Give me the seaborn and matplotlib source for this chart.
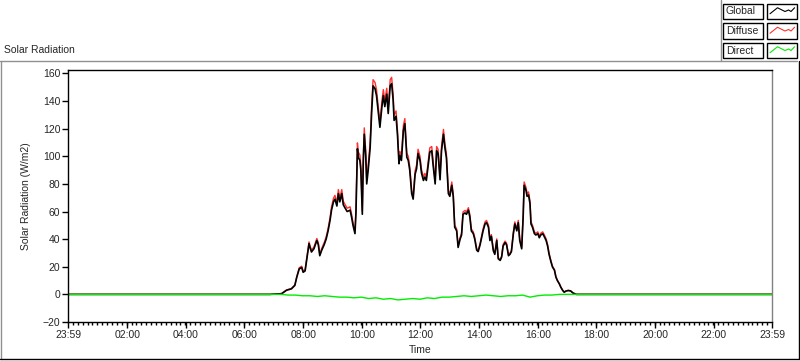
import matplotlib
matplotlib.use('Agg')
import matplotlib.pyplot as plt
import seaborn as sns
import pandas as pd
from matplotlib.lines import Line2D
from matplotlib.patches import Rectangle
from matplotlib.ticker import MultipleLocator, FixedLocator

# Data (time in minutes after the 23:59 start)
minutes = [0, 413, 437, 447, 457, 464, 468, 473, 478, 481, 485, 488, 493, 495, 498, 503, 509, 512, 515, 519,
           524, 528, 532, 536, 539, 543, 546, 550, 553, 556, 560, 563, 566, 571, 577, 580, 583, 587, 589, 592,
           594, 597, 599, 602, 604, 606, 609, 611, 614, 618, 621, 624, 628, 631, 635, 638, 642, 645, 648, 652,
           655, 659, 662, 665, 667, 671, 674, 677, 679, 682, 686, 689, 693, 696, 699, 703, 706, 710, 713, 716,
           720, 723, 727, 730, 733, 737, 740, 744, 747, 751, 754, 757, 761, 764, 768, 771, 774, 778, 781, 785,
           788, 791, 795, 798, 802, 805, 808, 812, 815, 819, 822, 825, 829, 832, 836, 839, 843, 846, 849, 853,
           856, 860, 863, 866, 870, 873, 877, 880, 884, 887, 890, 894, 897, 901, 904, 907, 911, 914, 918, 921,
           924, 928, 931, 933, 937, 939, 942, 945, 947, 950, 954, 957, 961, 964, 967, 971, 974, 978, 981, 984,
           988, 991, 995, 998, 1001, 1005, 1008, 1012, 1015, 1018, 1023, 1028, 1033, 1040, 1440]

global_rad = [0, 0, 0.5, 3, 4, 6.5, 12.5, 18.5, 19.5, 16, 17, 24.6, 36.7, 34, 30.7, 33, 39, 36, 28, 32,
              36, 40, 46, 53.6, 61, 67, 69, 64, 73, 67, 73, 65, 63, 60, 61, 56, 50, 44, 59, 105.5,
              99, 97, 90, 58, 96, 116, 100, 80, 90, 106, 131, 151, 149, 144, 131, 121, 135.6, 144, 136, 145,
              131, 151, 152.6, 141, 126, 129, 115, 94.6, 100.5, 97, 118.7, 123.6, 99.4, 97, 90, 73, 69, 87, 91, 102,
              97, 88, 82.5, 85, 82.5, 94.6, 103, 104, 93, 80, 104, 102, 83, 104, 116, 106, 99, 73, 71, 79,
              71, 48.7, 46, 34, 40, 43, 58, 59, 58, 61, 56, 46, 44, 40, 32, 31, 36, 41, 46, 51,
              52, 48.7, 39, 42, 31.6, 29, 39, 25.8, 24.6, 27, 35, 37.5, 36, 28, 29, 31, 44, 51, 46, 52,
              39, 33, 56, 79, 75, 71, 72, 65.6, 51, 48.7, 44, 43, 44, 41, 43, 44, 42, 39, 35, 29,
              23.4, 19.8, 17.5, 12.5, 10, 7.6, 5.2, 2.8, 1.6, 2.3, 2.8, 2.5, 1, 0, 0]

diffuse_rad = [0, 0, 0.6, 3.2, 4.3, 6.9, 13, 19.3, 20.4, 16.8, 17.8, 25.6, 38, 35.3, 32, 34.3, 40.5, 37.4, 29.2, 33.3,
               37.5, 41.6, 47.8, 55.7, 63.4, 69.6, 71.7, 66.5, 75.9, 69.6, 75.9, 67.6, 65.5, 62.4, 63.4, 58.2, 52, 45.8, 61.4, 109.7,
               103, 100.9, 93.6, 60.3, 99.8, 120.6, 104, 83.2, 93.6, 110.2, 136.2, 155.5, 153.5, 148.3, 134.9, 124.6, 139.7, 148.3, 140, 149.3,
               134.9, 155.5, 157.2, 145.2, 129.8, 132.9, 118.5, 97.4, 103.5, 99.9, 122.3, 127.3, 102.4, 99.9, 92.7, 75.2, 71.1, 89.6, 93.7, 105.1,
               99.9, 90.6, 85, 87.6, 85, 97.4, 106.1, 107.1, 95.8, 82.4, 107.1, 105.1, 85.5, 107.1, 119.5, 109.2, 102, 75.2, 73.1, 81.4,
               73.1, 50.2, 47.4, 35, 41.2, 44.3, 59.7, 60.8, 59.7, 62.8, 57.7, 47.4, 45.3, 41.2, 33, 31.9, 37.1, 42.2, 47.4, 52.5,
               53.6, 50.2, 40.2, 43.3, 32.5, 29.9, 40.2, 26.6, 25.3, 27.8, 36.1, 38.6, 37.1, 28.8, 29.9, 31.9, 45.3, 52.5, 47.4, 53.6,
               40.2, 34, 57.7, 81.4, 77.3, 73.1, 74.2, 67.6, 52.5, 50.2, 45.3, 44.3, 45.3, 42.2, 44.3, 45.3, 43.3, 40.2, 36.1, 29.9,
               24.1, 20.4, 18, 12.9, 10.3, 7.8, 5.4, 2.9, 1.6, 2.4, 2.9, 2.6, 1, 0, 0]

direct_minutes = [0, 437, 450, 465, 480, 495, 510, 525, 540, 555, 570, 585, 600, 615, 630, 645, 660, 675, 690, 705,
                  720, 735, 750, 765, 780, 795, 810, 825, 840, 855, 870, 885, 900, 915, 930, 945, 960, 975, 990, 1005,
                  1020, 1035, 1440]
direct_rad = [0, 0, -0.5, -0.5, -1, -1, -1.5, -1, -1.5, -2, -2, -2.5, -2, -3, -2.5, -3.5, -3, -4, -3.5, -3,
              -3.5, -2.5, -3, -2, -2, -1.5, -1, -1.5, -1, -0.5, -1, -1.5, -1, -1, -0.5, -2, -1, -0.5, -0.5, 0,
              0, 0, 0]

tick_minutes = [0, 121, 241, 361, 481, 601, 721, 841, 961, 1081, 1201, 1321, 1440]
tick_labels = ['23:59', '02:00', '04:00', '06:00', '08:00', '10:00', '12:00',
               '14:00', '16:00', '18:00', '20:00', '22:00', '23:59']

df_main = pd.DataFrame({'t': minutes, 'Global': global_rad, 'Diffuse': diffuse_rad})
df_direct = pd.DataFrame({'t': direct_minutes, 'Direct': direct_rad})

sns.set_style('white')
plt.rcParams['font.family'] = ['Liberation Sans', 'DejaVu Sans']

W, H = 800, 361


def fx(x):
    return x / W


def fy(y):
    return 1 - y / H


fig = plt.figure(figsize=(8, 3.61), dpi=100)
ax = fig.add_axes([fx(68), fy(322), 704 / W, 252 / H])

sns.lineplot(data=df_main, x='t', y='Diffuse', ax=ax, color='#ff3030', linewidth=1.0,
             estimator=None, sort=False)
sns.lineplot(data=df_main, x='t', y='Global', ax=ax, color='black', linewidth=1.2,
             estimator=None, sort=False)
sns.lineplot(data=df_direct, x='t', y='Direct', ax=ax, color='#00ee00', linewidth=1.0,
             estimator=None, sort=False)

ax.set_xlim(0, 1440)
ax.set_ylim(-20, 162.5)
ax.set_yticks(range(-20, 161, 20))
ax.xaxis.set_major_locator(FixedLocator(tick_minutes))
ax.set_xticklabels(tick_labels)
ax.xaxis.set_minor_locator(MultipleLocator(10))

ax.tick_params(axis='both', which='major', direction='out', length=4, width=1,
               color='black', labelsize=7.5, pad=1.5, bottom=True, left=True)
ax.tick_params(axis='x', which='minor', direction='out', length=2.5, width=1,
               color='black', bottom=True)

for side in ['left', 'bottom', 'top']:
    ax.spines[side].set_color('black')
    ax.spines[side].set_linewidth(1)
ax.spines['right'].set_color('#808080')
ax.spines['right'].set_linewidth(1)

ax.set_xlabel('Time', fontsize=7.5)
ax.set_ylabel('Solar Radiation (W/m2)', fontsize=7.5)
ax.xaxis.set_label_coords(0.5, -(345 - 322) / 252)
ax.yaxis.set_label_coords((31 - 68) / 704, 0.5)

# Panel frame
fig.add_artist(Line2D([fx(0), fx(797)], [fy(61), fy(61)], transform=fig.transFigure, color='#909090', lw=1))
fig.add_artist(Line2D([fx(1), fx(1)], [fy(61), fy(359)], transform=fig.transFigure, color='#909090', lw=1))
fig.add_artist(Line2D([fx(0), fx(799)], [fy(359), fy(359)], transform=fig.transFigure, color='black', lw=1))
fig.add_artist(Line2D([fx(799), fx(799)], [fy(61), fy(359)], transform=fig.transFigure, color='black', lw=1))
fig.add_artist(Line2D([fx(721), fx(721)], [fy(0), fy(61)], transform=fig.transFigure, color='#909090', lw=1))

fig.text(fx(4), fy(50), 'Solar Radiation', fontsize=7.5, ha='left', va='center')

# Legend (LabVIEW style)
legend_items = [('Global', 'black'), ('Diffuse', '#ff3030'), ('Direct', '#00ee00')]
zig_x = [0.1, 0.35, 0.6, 0.72, 0.8, 0.92]
zig_y = [0.35, 0.75, 0.5, 0.6, 0.5, 0.75]
for i, (name, col) in enumerate(legend_items):
    top = 4 + i * 19.5
    fig.add_artist(Rectangle((fx(723), fy(top + 15)), 40 / W, 15 / H, transform=fig.transFigure,
                             facecolor='white', edgecolor='black', lw=1))
    fig.add_artist(Rectangle((fx(767), fy(top + 15)), 30 / W, 15 / H, transform=fig.transFigure,
                             facecolor='white', edgecolor='black', lw=1))
    fig.text(fx(726), fy(top + 7.5), name, fontsize=7.5, ha='left', va='center')
    lx = [fx(767 + 30 * z) for z in zig_x]
    ly = [fy(top + 15 - 15 * z) for z in zig_y]
    fig.add_artist(Line2D(lx, ly, transform=fig.transFigure, color=col, lw=0.8))

fig.savefig('out.png', dpi=100)
